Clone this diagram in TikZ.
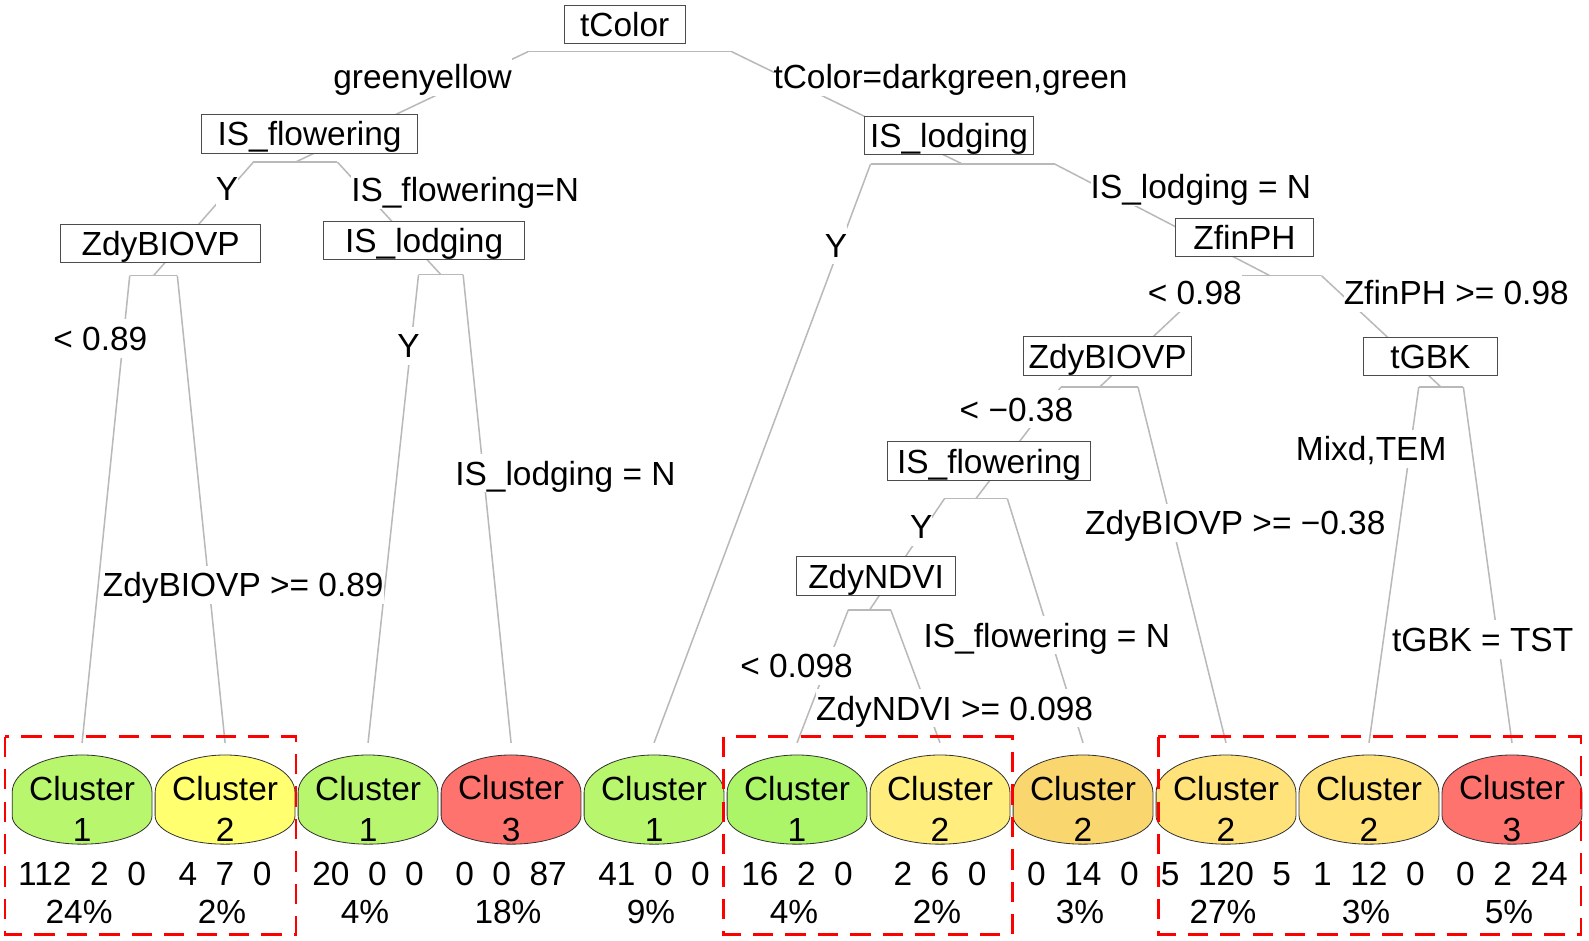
\documentclass[tikz,border=0pt]{standalone}
\usepackage{fontspec}
\setmainfont{Liberation Sans}
\definecolor{gA}{RGB}{184,246,110}
\definecolor{gB}{RGB}{172,244,104}
\definecolor{yA}{RGB}{255,255,112}
\definecolor{yB}{RGB}{255,238,125}
\definecolor{oA}{RGB}{250,214,110}
\definecolor{oB}{RGB}{255,226,122}
\definecolor{rA}{RGB}{255,115,110}
\definecolor{lineg}{RGB}{185,185,185}
\newcommand{\bigfont}{\fontsize{33}{41}\selectfont}
\tikzset{
 conn/.style={draw=lineg, line width=1.5pt},
 splitbox/.style={draw=black!70, fill=white, line width=1pt, minimum height=38pt, inner sep=0pt, text height=23.6pt, text depth=0pt, font=\bigfont},
 edgelbl/.style={fill=white, inner xsep=0pt, inner ysep=7pt, text height=23.6pt, text depth=0pt, font=\bigfont},
 leaftext/.style={align=center, font=\bigfont, inner sep=0pt},
 statline/.style={inner sep=0pt, text height=23.6pt, text depth=0pt, font=\bigfont},
 leafshape/.style={draw=black!80, line width=0.8pt},
 redbox/.style={draw=red, line width=2.6pt, dash pattern=on 20pt off 12pt},
}
% #1 name, #2 x, #3 colour, #4 cluster digit, #5 counts, #6 percent
\newcommand{\leafnode}[6]{%
  \path[leafshape, fill=#3, shift={(#2,798)}]
   (-69,-16) -- (-69,7) .. controls (-69,22.5) and (-38.1,35) .. (0,35)
   .. controls (38.1,35) and (69,22.5) .. (69,7) -- (69,-16)
   .. controls (69,-36.4) and (38.1,-53) .. (0,-53)
   .. controls (-38.1,-53) and (-69,-36.4) .. (-69,-16) -- cycle;
  \node[leaftext] (#1) at (#2,798) {Cluster\\#4};
  \node[statline] (#1s) at (#2,862) {#5};
  \node[statline, xshift=-3pt] (#1p) at (#2,899) {#6};
}
\begin{document}
\begin{tikzpicture}[x=1pt,y=-1pt]
\useasboundingbox (0,0) rectangle (1568,928);

% bar coordinates
\coordinate (rL) at (521,51);   \coordinate (rR) at (722,51);
\coordinate (fLl) at (250,160); \coordinate (fLr) at (333,160); \coordinate (fLm) at (291.5,160);
\coordinate (lRl) at (859,162); \coordinate (lRr) at (1041,162); \coordinate (lRm) at (950,162);
\coordinate (bLl) at (128,272); \coordinate (bLr) at (175,272); \coordinate (bLm) at (151.5,272);
\coordinate (lLl) at (413,271); \coordinate (lLr) at (457,271); \coordinate (lLm) at (435,271);
\coordinate (zfl) at (1202,272); \coordinate (zfr) at (1304,272); \coordinate (zfm) at (1253,272);
\coordinate (bRl) at (1047,382); \coordinate (bRr) at (1123,382); \coordinate (bRm) at (1085,382);
\coordinate (tgl) at (1400,382); \coordinate (tgr) at (1444,382); \coordinate (tgm) at (1422,382);
\coordinate (fRl) at (932,492); \coordinate (fRr) at (994,492); \coordinate (fRm) at (963,492);
\coordinate (ndl) at (837,602); \coordinate (ndr) at (879,602); \coordinate (ndm) at (858,602);

% leaves
\leafnode{L1}{81}{gA}{1}{112\ \ 2\ \ 0}{24\%}
\leafnode{L2}{222.1}{yA}{2}{4\ \ 7\ \ 0}{2\%}
\leafnode{L3}{363.2}{gA}{1}{20\ \ 0\ \ 0}{4\%}
\leafnode{L4}{504.3}{rA}{3}{0\ \ 0\ \ 87}{18\%}
\leafnode{L5}{645.4}{gA}{1}{41\ \ 0\ \ 0}{9\%}
\leafnode{L6}{786.5}{gB}{1}{16\ \ 2\ \ 0}{4\%}
\leafnode{L7}{927.6}{yB}{2}{2\ \ 6\ \ 0}{2\%}
\leafnode{L8}{1068.7}{oA}{2}{0\ \ 14\ \ 0}{3\%}
\leafnode{L9}{1209.8}{oB}{2}{5\ \ 120\ \ 5}{27\%}
\leafnode{L10}{1350.9}{oB}{2}{1\ \ 12\ \ 0}{3\%}
\leafnode{L11}{1492}{rA}{3}{0\ \ 2\ \ 24}{5\%}

% bars
\draw[conn] (rL) -- (rR);
\draw[conn] (fLl) -- (fLr);
\draw[conn] (lRl) -- (lRr);
\draw[conn] (bLl) -- (bLr);
\draw[conn] (lLl) -- (lLr);
\draw[conn] (zfl) -- (zfr);
\draw[conn] (bRl) -- (bRr);
\draw[conn] (tgl) -- (tgr);
\draw[conn] (fRl) -- (fRr);
\draw[conn] (ndl) -- (ndr);

% connectors
\draw[conn] (rL) -- (fLm);
\draw[conn] (rR) -- (lRm);
\draw[conn] (fLl) -- (bLm);
\draw[conn] (fLr) -- (lLm);
\draw[conn] (lRl) -- ([yshift=65pt]L5.center);
\draw[conn] (lRr) -- (zfm);
\draw[conn] (bLl) -- ([yshift=65pt]L1.center);
\draw[conn] (bLr) -- ([yshift=65pt]L2.center);
\draw[conn] (lLl) -- ([yshift=65pt]L3.center);
\draw[conn] (lLr) -- ([yshift=65pt]L4.center);
\draw[conn] (zfl) -- (bRm);
\draw[conn] (zfr) -- (tgm);
\draw[conn] (bRl) -- (fRm);
\draw[conn] (bRr) -- ([yshift=65pt]L9.center);
\draw[conn] (tgl) -- ([yshift=65pt]L10.center);
\draw[conn] (tgr) -- ([yshift=65pt]L11.center);
\draw[conn] (fRl) -- (ndm);
\draw[conn] (fRr) -- ([yshift=65pt]L8.center);
\draw[conn] (ndl) -- ([yshift=65pt]L6.center);
\draw[conn] (ndr) -- ([yshift=65pt]L7.center);

% split boxes
\node[splitbox, minimum width=119pt] (root) at (616.5,24) {tColor};
\node[splitbox, minimum width=213pt] (flowL) at (305.5,132) {IS\_flowering};
\node[splitbox, minimum width=167pt] (lodgR) at (936.5,133.5) {IS\_lodging};
\node[splitbox, minimum width=197pt] (biovL) at (158.5,240.5) {ZdyBIOVP};
\node[splitbox, minimum width=199pt] (lodgL) at (418.5,237.5) {IS\_lodging};
\node[splitbox, minimum width=136pt] (finph) at (1228,234.5) {ZfinPH};
\node[splitbox, minimum width=166pt] (biovR) at (1093,351.5) {ZdyBIOVP};
\node[splitbox, minimum width=133pt] (tgbk) at (1411.5,352) {tGBK};
\node[splitbox, minimum width=200pt] (flowR) at (976,455) {IS\_flowering};
\node[splitbox, minimum width=157pt] (ndvi) at (864.5,568.5) {ZdyNDVI};

% edge labels
\node[edgelbl] (e1) at (417,76) {greenyellow};
\node[edgelbl] (e2) at (938,76) {tColor=darkgreen,green};
\node[edgelbl] (e3) at (224,186) {Y};
\node[edgelbl] (e4) at (459,187) {IS\_flowering=N};
\node[edgelbl] (e5) at (825,242) {Y};
\node[edgelbl] (e6) at (1185,184) {IS\_lodging = N};
\node[edgelbl] (e7) at (99,334) {< 0.89};
\node[edgelbl] (e8) at (240,577) {ZdyBIOVP >= 0.89};
\node[edgelbl] (e9) at (403,341) {Y};
\node[edgelbl] (e10) at (558,467) {IS\_lodging = N};
\node[edgelbl] (e11) at (1179,289) {< 0.98};
\node[edgelbl] (e12) at (1437,289) {ZfinPH >= 0.98};
\node[edgelbl] (e13) at (1003,404) {< −0.38};
\node[edgelbl] (e14) at (1219,516) {ZdyBIOVP >= −0.38};
\node[edgelbl] (e15) at (1353,443) {Mixd,TEM};
\node[edgelbl] (e16) at (1463,631) {tGBK = TST};
\node[edgelbl] (e17) at (909,520) {Y};
\node[edgelbl] (e18) at (1033,627) {IS\_flowering = N};
\node[edgelbl] (e19) at (786,657) {< 0.098};
\node[edgelbl] (e20) at (942,699) {ZdyNDVI >= 0.098};

% red dashed groups
\draw[redbox] (5,727) rectangle (292,922);
\draw[redbox] (714,727) rectangle (999,922);
\draw[redbox] (1143,727) rectangle (1560,922);
\end{tikzpicture}
\end{document}
